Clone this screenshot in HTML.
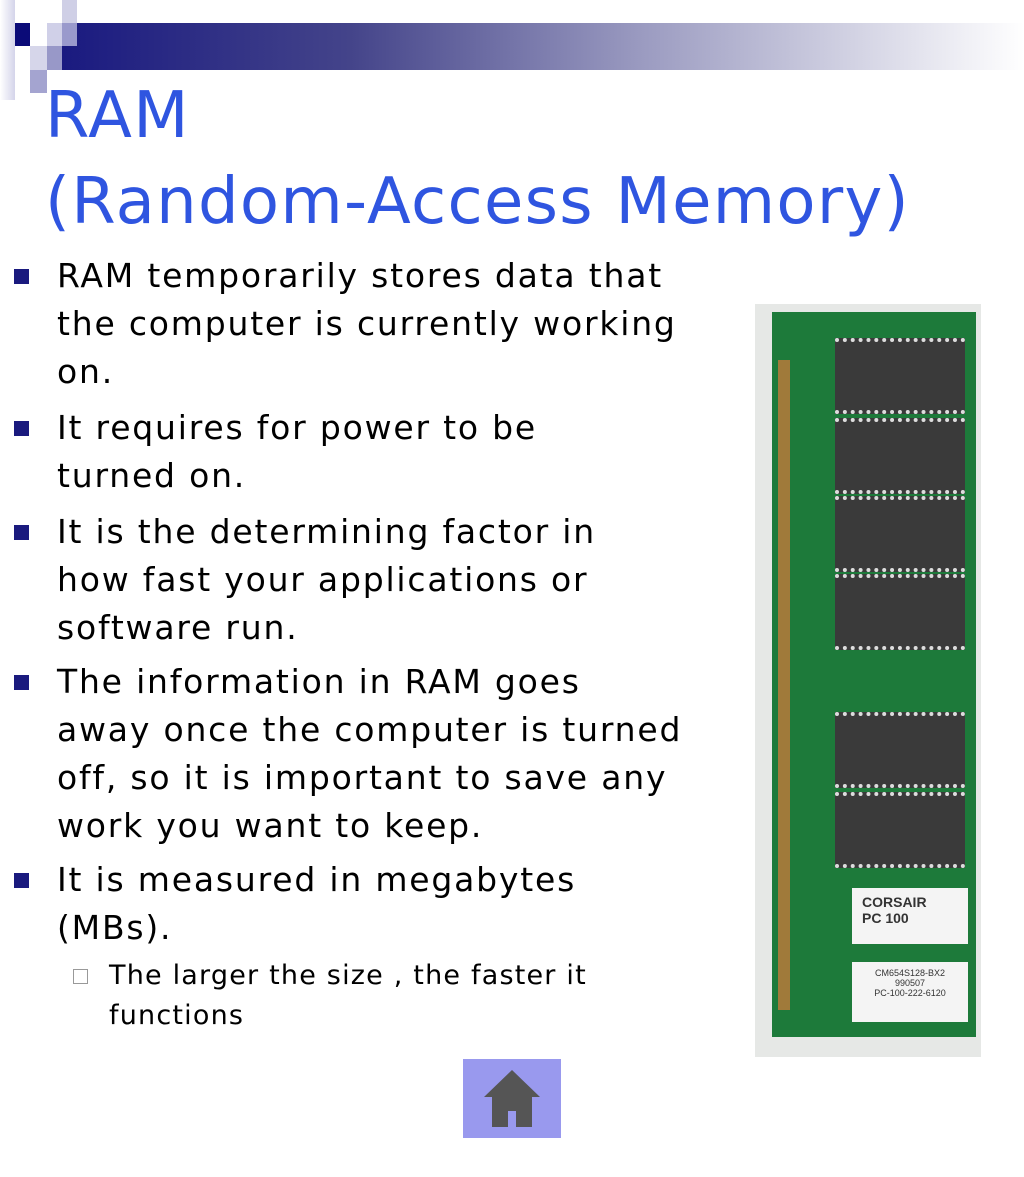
<!DOCTYPE html>
<html><head><style>
body{margin:0;width:1024px;height:1177px;background:#fff;position:relative;overflow:hidden;font-family:"DejaVu Sans","Liberation Sans",sans-serif}
.a{position:absolute}
.t{position:absolute;left:45px;color:#2f55e0;font-size:64px;line-height:88px;letter-spacing:1.3px;white-space:nowrap}
.b{position:absolute;left:57px;font-size:33px;line-height:48px;color:#000;white-space:nowrap;letter-spacing:1.8px}
.sq{position:absolute;left:-43px;top:17px;width:15px;height:15px;background:#1a1a7e}
.s{position:absolute;left:109px;font-size:27px;line-height:40px;white-space:nowrap;letter-spacing:1.2px}
.chip{position:absolute;left:835px;width:130px;background:#3a3a3a;border-top:4px dotted #ddd;border-bottom:4px dotted #ddd}
</style></head><body>
<div class="a" style="left:0;top:0;width:15px;height:100px;background:linear-gradient(90deg,#fff,#d4d4ea)"></div>
<div class="a" style="left:62px;top:23px;width:962px;height:47px;background:linear-gradient(90deg,#1a1a80,#44448a 30%,#9a9ac0 60%,#fff)"></div>
<div class="a" style="left:15px;top:23px;width:15px;height:23px;background:#0b0b78"></div>
<div class="a" style="left:62px;top:0;width:15px;height:23px;background:#cfcfe6"></div>
<div class="a" style="left:47px;top:23px;width:15px;height:23px;background:#d0d0e8"></div>
<div class="a" style="left:62px;top:23px;width:15px;height:23px;background:#9a9acc"></div>
<div class="a" style="left:30px;top:46px;width:17px;height:24px;background:#d6d6ea"></div>
<div class="a" style="left:47px;top:46px;width:15px;height:24px;background:#9898c8"></div>
<div class="a" style="left:30px;top:70px;width:17px;height:23px;background:#a4a4d0"></div>
<div class="t" style="top:72px">RAM</div>
<div class="t" style="top:158px">(Random-Access Memory)</div>
<div class="b" style="top:252px"><div class="sq"></div>RAM temporarily stores data that<br>the computer is currently working<br>on.</div>
<div class="b" style="top:404px"><div class="sq"></div>It requires for power to be<br>turned on.</div>
<div class="b" style="top:508px"><div class="sq"></div>It is the determining factor in<br>how fast your applications or<br>software run.</div>
<div class="b" style="top:658px"><div class="sq"></div>The information in RAM goes<br>away once the computer is turned<br>off, so it is important to save any<br>work you want to keep.</div>
<div class="b" style="top:856px"><div class="sq"></div>It is measured in megabytes<br>(MBs).</div>
<div class="s" style="top:956px"><div class="a" style="left:-36px;top:13px;width:13px;height:13px;border:1px solid #999"></div>The larger the size , the faster it<br>functions</div>
<div class="a" style="left:755px;top:304px;width:226px;height:753px;background:#e6e8e6"></div>
<div class="a" style="left:772px;top:312px;width:204px;height:725px;background:#1d7a3a"></div>
<div class="a" style="left:778px;top:360px;width:12px;height:650px;background:#a07a3a"></div>
<div class="chip" style="top:338px;height:68px"></div>
<div class="chip" style="top:418px;height:68px"></div>
<div class="chip" style="top:496px;height:68px"></div>
<div class="chip" style="top:574px;height:68px"></div>
<div class="chip" style="top:712px;height:68px"></div>
<div class="chip" style="top:792px;height:68px"></div>
<div class="a" style="left:852px;top:888px;width:116px;height:56px;background:#f4f4f4;font:bold 14px 'Liberation Sans';color:#333;padding:6px 0 0 10px;box-sizing:border-box">CORSAIR<br>PC 100</div>
<div class="a" style="left:852px;top:962px;width:116px;height:60px;background:#f4f4f4;font:9px 'Liberation Sans';color:#333;text-align:center;padding-top:6px;box-sizing:border-box">CM654S128-BX2<br>990507<br>PC-100-222-6120</div>
<div class="a" style="left:463px;top:1059px;width:98px;height:79px;background:#9999ee"></div>
<svg class="a" style="left:463px;top:1059px" width="98" height="79"><polygon points="49,11 21,38 77,38" fill="#555"/><rect x="29" y="38" width="40" height="30" fill="#555"/><rect x="45" y="52" width="8" height="16" fill="#9999ee"/></svg>
</body></html>
